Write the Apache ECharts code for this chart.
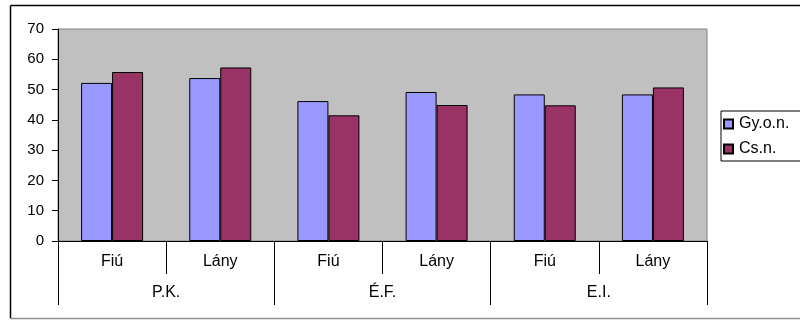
<!DOCTYPE html>
<html>
<head>
<meta charset="utf-8">
<script src="https://cdn.jsdelivr.net/npm/echarts@6/dist/echarts.min.js"></script>
<style>
  html, body { margin: 0; padding: 0; background: #fff; }
  #chart { width: 800px; height: 320px; }
</style>
</head>
<body>
<div id="chart"></div>
<script>
// Inner category level (sex) and outer level (group)
var categories = ['Fiú', 'Lány', 'Fiú', 'Lány', 'Fiú', 'Lány'];
var groups = ['P.K.', 'É.F.', 'E.I.'];
// Series values
var seriesNames = ['Gy.o.n.', 'Cs.n.'];
var gyon = [52.2, 53.8, 46.2, 49.2, 48.4, 48.4];
var csn = [55.8, 57.3, 41.5, 44.9, 44.8, 50.7];
// Value axis ticks
var yTicks = [0, 10, 20, 30, 40, 50, 60, 70];

var FONT = '"Liberation Sans", Arial, sans-serif';
var chart = echarts.init(document.getElementById('chart'), null, { renderer: 'canvas' });

chart.setOption({
  animation: false,
  textStyle: { fontFamily: FONT, color: '#000' },
  grid: {
    left: 58, top: 29, right: 93, bottom: 79,
    show: true, backgroundColor: '#c0c0c0', borderColor: '#808080', borderWidth: 1
  },
  legend: {
    orient: 'vertical',
    left: 721, top: 111,
    padding: [5, 30, 4, 2],
    itemGap: 9,
    itemWidth: 9, itemHeight: 9,
    borderColor: '#000', borderWidth: 1,
    icon: 'rect',
    textStyle: { fontFamily: FONT, fontSize: 16, lineHeight: 16, color: '#000', padding: [0, 0, 0, 1] },
    data: seriesNames
  },
  xAxis: [
    {
      type: 'category',
      data: categories,
      position: 'bottom',
      axisLine: { show: true, lineStyle: { color: '#000', width: 1 } },
      axisTick: { show: true, length: 33, lineStyle: { color: '#000' } },
      axisLabel: { fontFamily: FONT, fontSize: 16, color: '#000', margin: 13 },
      splitLine: { show: false }
    },
    {
      type: 'category',
      data: groups,
      position: 'bottom',
      offset: 0,
      axisLine: { show: false },
      axisTick: { show: true, length: 64, lineStyle: { color: '#000' } },
      axisLabel: { fontFamily: FONT, fontSize: 16, color: '#000', margin: 44 },
      splitLine: { show: false }
    }
  ],
  yAxis: {
    type: 'value',
    min: yTicks[0], max: yTicks[yTicks.length - 1], interval: 10,
    axisLine: { show: true, lineStyle: { color: '#000', width: 1 } },
    axisTick: { show: true, length: 6, lineStyle: { color: '#000' } },
    axisLabel: { fontFamily: FONT, fontSize: 15, color: '#000', margin: 14 },
    splitLine: { show: false }
  },
  series: [
    {
      name: seriesNames[0], type: 'bar', xAxisIndex: 0, data: gyon,
      barWidth: 31, barGap: '0%',
      itemStyle: { color: '#9999ff', borderColor: '#000', borderWidth: 1 }
    },
    {
      name: seriesNames[1], type: 'bar', xAxisIndex: 0, data: csn,
      barWidth: 31, barGap: '0%',
      itemStyle: { color: '#993366', borderColor: '#000', borderWidth: 1 }
    }
  ],
  graphic: [
    // chart frame
    { type: 'line', shape: { x1: 10.5, y1: 5.5, x2: 800, y2: 5.5 }, style: { stroke: '#000', lineWidth: 1.5 } },
    { type: 'line', shape: { x1: 10.5, y1: 5.5, x2: 10.5, y2: 318.5 }, style: { stroke: '#000', lineWidth: 1.5 } },
    { type: 'line', shape: { x1: 10.5, y1: 318.5, x2: 800, y2: 318.5 }, style: { stroke: '#909090', lineWidth: 1.5 } }
  ]
});
</script>
</body>
</html>
